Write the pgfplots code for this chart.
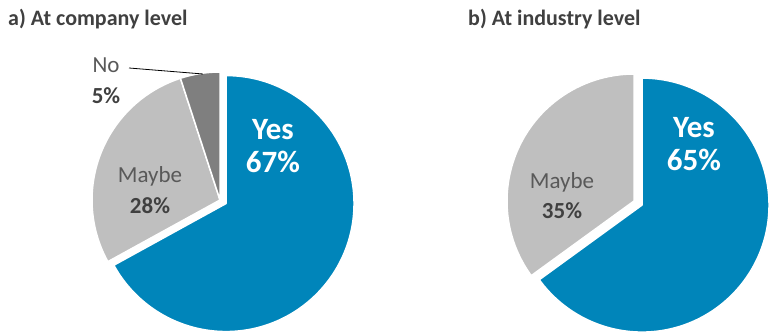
\documentclass[border=0pt]{standalone}
\usepackage{pgfplots}
\usepackage{pgfplotstable}
\pgfplotsset{compat=1.18}
\usepackage{fontspec}
\setmainfont{Carlito}
\definecolor{pieblue}{HTML}{0085BA}
\definecolor{pielight}{HTML}{BFBFBF}
\definecolor{piedark}{HTML}{7F7F7F}
\definecolor{txtgray}{HTML}{595959}
\definecolor{titlegray}{HTML}{404040}

% shares in percent
\pgfplotstableread{
label pct
Yes 67
Maybe 28
No 5
}\companytable
\pgfplotstableread{
label pct
Yes 65
Maybe 35
}\industrytable

% #1 cx, #2 cy (pixel coords), #3 radius, #4 start angle, #5 end angle, #6 explode, #7 colour
\newcommand{\slice}[7]{%
  \fill[#7, draw=white, line width=1.5pt, line join=round]
    (axis cs:#1,#2) ++({(#4+#5)/2}:#6pt) -- ++(#4:#3pt)
    arc[start angle=#4, end angle=#5, radius=#3pt] -- cycle;%
}

\begin{document}
\begin{tikzpicture}
\begin{axis}[hide axis, scale only axis, x=1pt, y=1pt, y dir=reverse,
  xmin=0, xmax=773, ymin=0, ymax=336, clip=false]
\path (axis cs:0,0) rectangle (axis cs:773,336);

% ---- company level ----
\pgfplotstablegetelem{0}{pct}\of\companytable \pgfmathsetmacro{\ca}{\pgfplotsretval}
\pgfplotstablegetelem{1}{pct}\of\companytable \pgfmathsetmacro{\cb}{\pgfplotsretval}
\pgfplotstablegetelem{2}{pct}\of\companytable \pgfmathsetmacro{\cc}{\pgfplotsretval}
\pgfmathsetmacro{\cA}{90-3.6*\ca}
\pgfmathsetmacro{\cB}{\cA-3.6*\cb}
\pgfmathsetmacro{\cC}{\cB-3.6*\cc}
\slice{220}{200}{128}{90}{\cA}{7}{pieblue}
\slice{220}{200}{128}{\cA}{\cB}{0}{pielight}
\slice{220}{200}{128}{\cB}{\cC}{0}{piedark}

% ---- industry level ----
\pgfplotstablegetelem{0}{pct}\of\industrytable \pgfmathsetmacro{\ia}{\pgfplotsretval}
\pgfplotstablegetelem{1}{pct}\of\industrytable \pgfmathsetmacro{\ib}{\pgfplotsretval}
\pgfmathsetmacro{\iA}{90-3.6*\ia}
\pgfmathsetmacro{\iB}{\iA-3.6*\ib}
\slice{634}{201}{127}{90}{\iA}{9}{pieblue}
\slice{634}{201}{127}{\iA}{\iB}{0}{pielight}

% leader line
\draw[black, line width=0.8pt] (axis cs:129,68) -- (axis cs:203,74);

% titles
\node[anchor=west, font=\bfseries\fontsize{22}{24}\selectfont, text=titlegray, inner sep=0pt]
  at (axis cs:8,19) {a) At company level};
\node[anchor=west, font=\bfseries\fontsize{22}{24}\selectfont, text=titlegray, inner sep=0pt]
  at (axis cs:468,19) {b) At industry level};

% labels
\node[font=\bfseries\fontsize{31}{34}\selectfont, text=white, align=center] at (axis cs:273,146)
  {Yes\\[-1pt]67\%};
\node[font=\fontsize{23}{25}\selectfont, text=txtgray] at (axis cs:150,176) {Maybe};
\node[font=\bfseries\fontsize{23}{25}\selectfont, text=titlegray] at (axis cs:150,206) {28\%};
\node[font=\fontsize{23}{25}\selectfont, text=txtgray] at (axis cs:106,65) {No};
\node[font=\bfseries\fontsize{23}{25}\selectfont, text=titlegray] at (axis cs:106,96) {5\%};

\node[font=\bfseries\fontsize{31}{34}\selectfont, text=white, align=center] at (axis cs:694,144)
  {Yes\\[-1pt]65\%};
\node[font=\fontsize{23}{25}\selectfont, text=txtgray] at (axis cs:562,182) {Maybe};
\node[font=\bfseries\fontsize{23}{25}\selectfont, text=titlegray] at (axis cs:562,211) {35\%};
\end{axis}
\end{tikzpicture}
\end{document}
